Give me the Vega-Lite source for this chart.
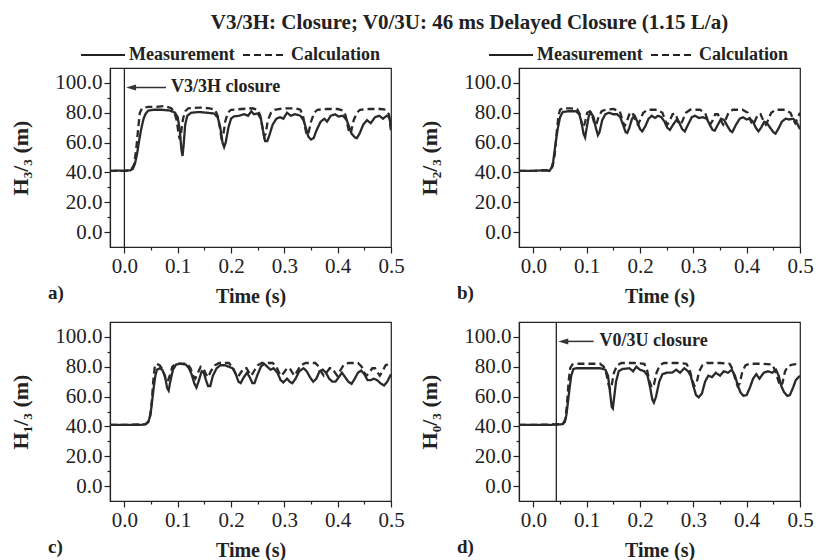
{
  "$schema": "https://vega.github.io/schema/vega-lite/v6.json",
  "background": "white",
  "padding": {"left": 9, "top": 12, "right": 0, "bottom": 2},
  "title": {"text": "V3/3H: Closure; V0/3U: 46 ms Delayed Closure (1.15 L/a)", "font": "Liberation Serif", "fontSize": 21, "fontWeight": "bold", "color": "#222", "anchor": "middle", "offset": -2, "dx": 58},
  "bounds": "flush",
  "columns": 2,
  "spacing": {"row": 75, "column": 128},
  "resolve": {"scale": {"strokeDash": "independent"}, "legend": {"strokeDash": "independent"}},
  "config": {
    "font": "Liberation Serif",
    "view": {"stroke": "#222", "strokeWidth": 1.2},
    "axis": {"labelFont": "Liberation Serif", "labelColor": "#222", "labelOverlap": false, "titleFont": "Liberation Serif", "titleFontSize": 20, "titleFontWeight": "bold", "titleColor": "#222", "domainColor": "#222", "tickColor": "#222", "grid": false, "tickWidth": 1.2, "domainWidth": 1.2},
    "axisY": {"titleFontSize": 22},
    "legend": {"labelFont": "Liberation Serif", "labelFontSize": 18, "labelFontWeight": "bold", "labelColor": "#222"}
  },
  "datasets": {
    "curves": [
      {"p":"a","s":"Measurement","t":-0.027,"h":41},{"p":"a","s":"Measurement","t":-0.01,"h":41.2},{"p":"a","s":"Measurement","t":0.0,"h":41},{"p":"a","s":"Measurement","t":0.012,"h":41.5},{"p":"a","s":"Measurement","t":0.016,"h":42.5},{"p":"a","s":"Measurement","t":0.02,"h":46},{"p":"a","s":"Measurement","t":0.024,"h":53},{"p":"a","s":"Measurement","t":0.028,"h":62},{"p":"a","s":"Measurement","t":0.032,"h":70},{"p":"a","s":"Measurement","t":0.036,"h":76},{"p":"a","s":"Measurement","t":0.04,"h":79.5},{"p":"a","s":"Measurement","t":0.045,"h":81.5},{"p":"a","s":"Measurement","t":0.055,"h":82},{"p":"a","s":"Measurement","t":0.07,"h":82},{"p":"a","s":"Measurement","t":0.085,"h":81.5},{"p":"a","s":"Measurement","t":0.095,"h":80},{"p":"a","s":"Measurement","t":0.1,"h":77},{"p":"a","s":"Measurement","t":0.104,"h":68},{"p":"a","s":"Measurement","t":0.107,"h":55},{"p":"a","s":"Measurement","t":0.109,"h":51},{"p":"a","s":"Measurement","t":0.111,"h":58},{"p":"a","s":"Measurement","t":0.114,"h":72},{"p":"a","s":"Measurement","t":0.118,"h":78},{"p":"a","s":"Measurement","t":0.125,"h":80},{"p":"a","s":"Measurement","t":0.14,"h":80.5},{"p":"a","s":"Measurement","t":0.155,"h":80},{"p":"a","s":"Measurement","t":0.168,"h":79.5},{"p":"a","s":"Measurement","t":0.175,"h":77},{"p":"a","s":"Measurement","t":0.18,"h":70},{"p":"a","s":"Measurement","t":0.184,"h":60},{"p":"a","s":"Measurement","t":0.187,"h":57},{"p":"a","s":"Measurement","t":0.19,"h":60},{"p":"a","s":"Measurement","t":0.195,"h":70},{"p":"a","s":"Measurement","t":0.2,"h":76},{"p":"a","s":"Measurement","t":0.205,"h":77.5},{"p":"a","s":"Measurement","t":0.215,"h":78},{"p":"a","s":"Measurement","t":0.225,"h":79},{"p":"a","s":"Measurement","t":0.232,"h":78},{"p":"a","s":"Measurement","t":0.238,"h":81},{"p":"a","s":"Measurement","t":0.243,"h":79},{"p":"a","s":"Measurement","t":0.25,"h":79.5},{"p":"a","s":"Measurement","t":0.256,"h":76},{"p":"a","s":"Measurement","t":0.26,"h":68},{"p":"a","s":"Measurement","t":0.264,"h":61},{"p":"a","s":"Measurement","t":0.268,"h":61},{"p":"a","s":"Measurement","t":0.272,"h":65},{"p":"a","s":"Measurement","t":0.278,"h":72},{"p":"a","s":"Measurement","t":0.285,"h":76},{"p":"a","s":"Measurement","t":0.292,"h":77},{"p":"a","s":"Measurement","t":0.298,"h":76},{"p":"a","s":"Measurement","t":0.305,"h":80},{"p":"a","s":"Measurement","t":0.312,"h":78},{"p":"a","s":"Measurement","t":0.32,"h":79},{"p":"a","s":"Measurement","t":0.33,"h":78},{"p":"a","s":"Measurement","t":0.336,"h":75},{"p":"a","s":"Measurement","t":0.341,"h":69},{"p":"a","s":"Measurement","t":0.345,"h":64},{"p":"a","s":"Measurement","t":0.35,"h":62},{"p":"a","s":"Measurement","t":0.355,"h":63},{"p":"a","s":"Measurement","t":0.36,"h":68},{"p":"a","s":"Measurement","t":0.368,"h":74},{"p":"a","s":"Measurement","t":0.375,"h":76},{"p":"a","s":"Measurement","t":0.38,"h":74},{"p":"a","s":"Measurement","t":0.387,"h":78},{"p":"a","s":"Measurement","t":0.395,"h":79},{"p":"a","s":"Measurement","t":0.402,"h":77.5},{"p":"a","s":"Measurement","t":0.41,"h":78},{"p":"a","s":"Measurement","t":0.417,"h":75},{"p":"a","s":"Measurement","t":0.422,"h":70},{"p":"a","s":"Measurement","t":0.426,"h":66},{"p":"a","s":"Measurement","t":0.432,"h":63.5},{"p":"a","s":"Measurement","t":0.436,"h":63},{"p":"a","s":"Measurement","t":0.441,"h":66},{"p":"a","s":"Measurement","t":0.448,"h":72},{"p":"a","s":"Measurement","t":0.455,"h":75},{"p":"a","s":"Measurement","t":0.462,"h":73},{"p":"a","s":"Measurement","t":0.47,"h":77},{"p":"a","s":"Measurement","t":0.478,"h":78},{"p":"a","s":"Measurement","t":0.485,"h":76},{"p":"a","s":"Measurement","t":0.492,"h":78},{"p":"a","s":"Measurement","t":0.497,"h":77},{"p":"a","s":"Measurement","t":0.5,"h":70},
      {"p":"a","s":"Calculation","t":-0.027,"h":41},{"p":"a","s":"Calculation","t":0.0,"h":41},{"p":"a","s":"Calculation","t":0.012,"h":41.5},{"p":"a","s":"Calculation","t":0.018,"h":45},{"p":"a","s":"Calculation","t":0.022,"h":55},{"p":"a","s":"Calculation","t":0.026,"h":70},{"p":"a","s":"Calculation","t":0.029,"h":80},{"p":"a","s":"Calculation","t":0.033,"h":83},{"p":"a","s":"Calculation","t":0.045,"h":84},{"p":"a","s":"Calculation","t":0.06,"h":84},{"p":"a","s":"Calculation","t":0.075,"h":84.5},{"p":"a","s":"Calculation","t":0.088,"h":83},{"p":"a","s":"Calculation","t":0.094,"h":80},{"p":"a","s":"Calculation","t":0.098,"h":75},{"p":"a","s":"Calculation","t":0.102,"h":65},{"p":"a","s":"Calculation","t":0.104,"h":62},{"p":"a","s":"Calculation","t":0.106,"h":66},{"p":"a","s":"Calculation","t":0.11,"h":76},{"p":"a","s":"Calculation","t":0.114,"h":81},{"p":"a","s":"Calculation","t":0.12,"h":83},{"p":"a","s":"Calculation","t":0.14,"h":83.5},{"p":"a","s":"Calculation","t":0.16,"h":83},{"p":"a","s":"Calculation","t":0.17,"h":82},{"p":"a","s":"Calculation","t":0.175,"h":78},{"p":"a","s":"Calculation","t":0.179,"h":70},{"p":"a","s":"Calculation","t":0.182,"h":63},{"p":"a","s":"Calculation","t":0.185,"h":64},{"p":"a","s":"Calculation","t":0.189,"h":74},{"p":"a","s":"Calculation","t":0.194,"h":80},{"p":"a","s":"Calculation","t":0.2,"h":82},{"p":"a","s":"Calculation","t":0.22,"h":82.5},{"p":"a","s":"Calculation","t":0.24,"h":83},{"p":"a","s":"Calculation","t":0.25,"h":82},{"p":"a","s":"Calculation","t":0.255,"h":78},{"p":"a","s":"Calculation","t":0.259,"h":70},{"p":"a","s":"Calculation","t":0.262,"h":64},{"p":"a","s":"Calculation","t":0.265,"h":66},{"p":"a","s":"Calculation","t":0.269,"h":75},{"p":"a","s":"Calculation","t":0.275,"h":80},{"p":"a","s":"Calculation","t":0.282,"h":82},{"p":"a","s":"Calculation","t":0.3,"h":83},{"p":"a","s":"Calculation","t":0.32,"h":83},{"p":"a","s":"Calculation","t":0.33,"h":82},{"p":"a","s":"Calculation","t":0.335,"h":78},{"p":"a","s":"Calculation","t":0.339,"h":70},{"p":"a","s":"Calculation","t":0.342,"h":65},{"p":"a","s":"Calculation","t":0.345,"h":66},{"p":"a","s":"Calculation","t":0.35,"h":74},{"p":"a","s":"Calculation","t":0.356,"h":80},{"p":"a","s":"Calculation","t":0.362,"h":82},{"p":"a","s":"Calculation","t":0.38,"h":82.5},{"p":"a","s":"Calculation","t":0.4,"h":82.5},{"p":"a","s":"Calculation","t":0.41,"h":81.5},{"p":"a","s":"Calculation","t":0.415,"h":78},{"p":"a","s":"Calculation","t":0.419,"h":71},{"p":"a","s":"Calculation","t":0.422,"h":66},{"p":"a","s":"Calculation","t":0.425,"h":67},{"p":"a","s":"Calculation","t":0.43,"h":75},{"p":"a","s":"Calculation","t":0.436,"h":80},{"p":"a","s":"Calculation","t":0.442,"h":82},{"p":"a","s":"Calculation","t":0.46,"h":82.5},{"p":"a","s":"Calculation","t":0.48,"h":82.5},{"p":"a","s":"Calculation","t":0.49,"h":82},{"p":"a","s":"Calculation","t":0.496,"h":79},{"p":"a","s":"Calculation","t":0.5,"h":68},
      {"p":"b","s":"Measurement","t":-0.027,"h":41},{"p":"b","s":"Measurement","t":0.0,"h":41},{"p":"b","s":"Measurement","t":0.02,"h":41.5},{"p":"b","s":"Measurement","t":0.03,"h":41},{"p":"b","s":"Measurement","t":0.034,"h":43},{"p":"b","s":"Measurement","t":0.037,"h":47},{"p":"b","s":"Measurement","t":0.04,"h":55},{"p":"b","s":"Measurement","t":0.043,"h":63},{"p":"b","s":"Measurement","t":0.046,"h":70},{"p":"b","s":"Measurement","t":0.05,"h":77},{"p":"b","s":"Measurement","t":0.055,"h":80.5},{"p":"b","s":"Measurement","t":0.065,"h":81},{"p":"b","s":"Measurement","t":0.08,"h":81},{"p":"b","s":"Measurement","t":0.086,"h":79},{"p":"b","s":"Measurement","t":0.09,"h":74},{"p":"b","s":"Measurement","t":0.094,"h":66},{"p":"b","s":"Measurement","t":0.097,"h":63.5},{"p":"b","s":"Measurement","t":0.1,"h":70},{"p":"b","s":"Measurement","t":0.104,"h":78},{"p":"b","s":"Measurement","t":0.108,"h":80},{"p":"b","s":"Measurement","t":0.113,"h":77},{"p":"b","s":"Measurement","t":0.117,"h":70},{"p":"b","s":"Measurement","t":0.121,"h":65},{"p":"b","s":"Measurement","t":0.124,"h":67},{"p":"b","s":"Measurement","t":0.129,"h":75},{"p":"b","s":"Measurement","t":0.135,"h":79},{"p":"b","s":"Measurement","t":0.142,"h":80},{"p":"b","s":"Measurement","t":0.15,"h":79},{"p":"b","s":"Measurement","t":0.157,"h":79},{"p":"b","s":"Measurement","t":0.163,"h":77},{"p":"b","s":"Measurement","t":0.168,"h":72},{"p":"b","s":"Measurement","t":0.173,"h":67},{"p":"b","s":"Measurement","t":0.176,"h":66.5},{"p":"b","s":"Measurement","t":0.18,"h":70},{"p":"b","s":"Measurement","t":0.185,"h":76},{"p":"b","s":"Measurement","t":0.19,"h":78},{"p":"b","s":"Measurement","t":0.195,"h":74},{"p":"b","s":"Measurement","t":0.2,"h":69},{"p":"b","s":"Measurement","t":0.204,"h":67.5},{"p":"b","s":"Measurement","t":0.21,"h":71},{"p":"b","s":"Measurement","t":0.216,"h":76},{"p":"b","s":"Measurement","t":0.222,"h":78},{"p":"b","s":"Measurement","t":0.228,"h":76.5},{"p":"b","s":"Measurement","t":0.234,"h":78},{"p":"b","s":"Measurement","t":0.24,"h":77},{"p":"b","s":"Measurement","t":0.246,"h":74},{"p":"b","s":"Measurement","t":0.251,"h":70},{"p":"b","s":"Measurement","t":0.256,"h":68.5},{"p":"b","s":"Measurement","t":0.262,"h":72},{"p":"b","s":"Measurement","t":0.268,"h":75},{"p":"b","s":"Measurement","t":0.274,"h":73},{"p":"b","s":"Measurement","t":0.279,"h":69},{"p":"b","s":"Measurement","t":0.284,"h":67.5},{"p":"b","s":"Measurement","t":0.29,"h":72},{"p":"b","s":"Measurement","t":0.297,"h":77},{"p":"b","s":"Measurement","t":0.303,"h":78},{"p":"b","s":"Measurement","t":0.31,"h":76.5},{"p":"b","s":"Measurement","t":0.318,"h":77},{"p":"b","s":"Measurement","t":0.325,"h":76},{"p":"b","s":"Measurement","t":0.331,"h":72},{"p":"b","s":"Measurement","t":0.336,"h":68.5},{"p":"b","s":"Measurement","t":0.34,"h":68},{"p":"b","s":"Measurement","t":0.346,"h":72},{"p":"b","s":"Measurement","t":0.352,"h":76},{"p":"b","s":"Measurement","t":0.358,"h":75},{"p":"b","s":"Measurement","t":0.364,"h":71},{"p":"b","s":"Measurement","t":0.369,"h":68},{"p":"b","s":"Measurement","t":0.373,"h":67},{"p":"b","s":"Measurement","t":0.38,"h":72},{"p":"b","s":"Measurement","t":0.387,"h":76},{"p":"b","s":"Measurement","t":0.393,"h":77},{"p":"b","s":"Measurement","t":0.4,"h":75.5},{"p":"b","s":"Measurement","t":0.406,"h":76},{"p":"b","s":"Measurement","t":0.412,"h":74},{"p":"b","s":"Measurement","t":0.417,"h":70},{"p":"b","s":"Measurement","t":0.422,"h":67.5},{"p":"b","s":"Measurement","t":0.427,"h":70},{"p":"b","s":"Measurement","t":0.433,"h":74},{"p":"b","s":"Measurement","t":0.438,"h":73},{"p":"b","s":"Measurement","t":0.444,"h":70},{"p":"b","s":"Measurement","t":0.45,"h":67},{"p":"b","s":"Measurement","t":0.454,"h":66},{"p":"b","s":"Measurement","t":0.459,"h":69},{"p":"b","s":"Measurement","t":0.466,"h":74},{"p":"b","s":"Measurement","t":0.473,"h":76},{"p":"b","s":"Measurement","t":0.48,"h":75.5},{"p":"b","s":"Measurement","t":0.487,"h":76},{"p":"b","s":"Measurement","t":0.493,"h":74},{"p":"b","s":"Measurement","t":0.5,"h":69},
      {"p":"b","s":"Calculation","t":-0.027,"h":41},{"p":"b","s":"Calculation","t":0.0,"h":41},{"p":"b","s":"Calculation","t":0.03,"h":41.5},{"p":"b","s":"Calculation","t":0.036,"h":44},{"p":"b","s":"Calculation","t":0.04,"h":52},{"p":"b","s":"Calculation","t":0.044,"h":68},{"p":"b","s":"Calculation","t":0.047,"h":78},{"p":"b","s":"Calculation","t":0.05,"h":82},{"p":"b","s":"Calculation","t":0.055,"h":83},{"p":"b","s":"Calculation","t":0.07,"h":83},{"p":"b","s":"Calculation","t":0.082,"h":82.5},{"p":"b","s":"Calculation","t":0.087,"h":79},{"p":"b","s":"Calculation","t":0.091,"h":72},{"p":"b","s":"Calculation","t":0.094,"h":70},{"p":"b","s":"Calculation","t":0.097,"h":74},{"p":"b","s":"Calculation","t":0.101,"h":80},{"p":"b","s":"Calculation","t":0.106,"h":81},{"p":"b","s":"Calculation","t":0.111,"h":77},{"p":"b","s":"Calculation","t":0.115,"h":72},{"p":"b","s":"Calculation","t":0.118,"h":72},{"p":"b","s":"Calculation","t":0.122,"h":77},{"p":"b","s":"Calculation","t":0.128,"h":81},{"p":"b","s":"Calculation","t":0.135,"h":82},{"p":"b","s":"Calculation","t":0.15,"h":82.5},{"p":"b","s":"Calculation","t":0.162,"h":81},{"p":"b","s":"Calculation","t":0.167,"h":75},{"p":"b","s":"Calculation","t":0.171,"h":71},{"p":"b","s":"Calculation","t":0.175,"h":74},{"p":"b","s":"Calculation","t":0.181,"h":80},{"p":"b","s":"Calculation","t":0.186,"h":80},{"p":"b","s":"Calculation","t":0.191,"h":75},{"p":"b","s":"Calculation","t":0.196,"h":72},{"p":"b","s":"Calculation","t":0.2,"h":75},{"p":"b","s":"Calculation","t":0.206,"h":80},{"p":"b","s":"Calculation","t":0.214,"h":82},{"p":"b","s":"Calculation","t":0.232,"h":82},{"p":"b","s":"Calculation","t":0.242,"h":80},{"p":"b","s":"Calculation","t":0.247,"h":75},{"p":"b","s":"Calculation","t":0.251,"h":72},{"p":"b","s":"Calculation","t":0.255,"h":74},{"p":"b","s":"Calculation","t":0.261,"h":79},{"p":"b","s":"Calculation","t":0.266,"h":79.5},{"p":"b","s":"Calculation","t":0.271,"h":75},{"p":"b","s":"Calculation","t":0.276,"h":72},{"p":"b","s":"Calculation","t":0.28,"h":75},{"p":"b","s":"Calculation","t":0.286,"h":80},{"p":"b","s":"Calculation","t":0.294,"h":82},{"p":"b","s":"Calculation","t":0.312,"h":82},{"p":"b","s":"Calculation","t":0.322,"h":80},{"p":"b","s":"Calculation","t":0.327,"h":75},{"p":"b","s":"Calculation","t":0.331,"h":72},{"p":"b","s":"Calculation","t":0.335,"h":74},{"p":"b","s":"Calculation","t":0.341,"h":79},{"p":"b","s":"Calculation","t":0.346,"h":79},{"p":"b","s":"Calculation","t":0.351,"h":75},{"p":"b","s":"Calculation","t":0.356,"h":72},{"p":"b","s":"Calculation","t":0.36,"h":75},{"p":"b","s":"Calculation","t":0.366,"h":80},{"p":"b","s":"Calculation","t":0.374,"h":82},{"p":"b","s":"Calculation","t":0.392,"h":82},{"p":"b","s":"Calculation","t":0.402,"h":80},{"p":"b","s":"Calculation","t":0.407,"h":75},{"p":"b","s":"Calculation","t":0.411,"h":72},{"p":"b","s":"Calculation","t":0.415,"h":74},{"p":"b","s":"Calculation","t":0.421,"h":79},{"p":"b","s":"Calculation","t":0.426,"h":79},{"p":"b","s":"Calculation","t":0.431,"h":75},{"p":"b","s":"Calculation","t":0.436,"h":72},{"p":"b","s":"Calculation","t":0.44,"h":75},{"p":"b","s":"Calculation","t":0.446,"h":80},{"p":"b","s":"Calculation","t":0.454,"h":82},{"p":"b","s":"Calculation","t":0.472,"h":82},{"p":"b","s":"Calculation","t":0.482,"h":80},{"p":"b","s":"Calculation","t":0.487,"h":76},{"p":"b","s":"Calculation","t":0.491,"h":73},{"p":"b","s":"Calculation","t":0.495,"h":76},{"p":"b","s":"Calculation","t":0.5,"h":80},
      {"p":"c","s":"Measurement","t":-0.027,"h":41},{"p":"c","s":"Measurement","t":0.0,"h":41},{"p":"c","s":"Measurement","t":0.03,"h":41},{"p":"c","s":"Measurement","t":0.04,"h":41.5},{"p":"c","s":"Measurement","t":0.045,"h":43},{"p":"c","s":"Measurement","t":0.049,"h":48},{"p":"c","s":"Measurement","t":0.052,"h":57},{"p":"c","s":"Measurement","t":0.055,"h":66},{"p":"c","s":"Measurement","t":0.058,"h":74},{"p":"c","s":"Measurement","t":0.061,"h":78},{"p":"c","s":"Measurement","t":0.066,"h":79},{"p":"c","s":"Measurement","t":0.071,"h":78},{"p":"c","s":"Measurement","t":0.076,"h":74},{"p":"c","s":"Measurement","t":0.08,"h":66},{"p":"c","s":"Measurement","t":0.083,"h":64},{"p":"c","s":"Measurement","t":0.086,"h":70},{"p":"c","s":"Measurement","t":0.091,"h":78},{"p":"c","s":"Measurement","t":0.097,"h":81.5},{"p":"c","s":"Measurement","t":0.105,"h":82},{"p":"c","s":"Measurement","t":0.115,"h":81.5},{"p":"c","s":"Measurement","t":0.121,"h":79},{"p":"c","s":"Measurement","t":0.126,"h":75},{"p":"c","s":"Measurement","t":0.131,"h":69},{"p":"c","s":"Measurement","t":0.135,"h":66},{"p":"c","s":"Measurement","t":0.139,"h":70},{"p":"c","s":"Measurement","t":0.145,"h":77},{"p":"c","s":"Measurement","t":0.149,"h":76},{"p":"c","s":"Measurement","t":0.153,"h":71},{"p":"c","s":"Measurement","t":0.157,"h":67},{"p":"c","s":"Measurement","t":0.161,"h":67},{"p":"c","s":"Measurement","t":0.166,"h":74},{"p":"c","s":"Measurement","t":0.173,"h":79},{"p":"c","s":"Measurement","t":0.18,"h":81},{"p":"c","s":"Measurement","t":0.188,"h":81},{"p":"c","s":"Measurement","t":0.196,"h":80},{"p":"c","s":"Measurement","t":0.203,"h":79},{"p":"c","s":"Measurement","t":0.209,"h":75},{"p":"c","s":"Measurement","t":0.214,"h":70},{"p":"c","s":"Measurement","t":0.218,"h":69},{"p":"c","s":"Measurement","t":0.224,"h":73},{"p":"c","s":"Measurement","t":0.23,"h":76},{"p":"c","s":"Measurement","t":0.235,"h":73},{"p":"c","s":"Measurement","t":0.24,"h":69},{"p":"c","s":"Measurement","t":0.244,"h":69},{"p":"c","s":"Measurement","t":0.25,"h":75},{"p":"c","s":"Measurement","t":0.256,"h":80},{"p":"c","s":"Measurement","t":0.262,"h":82},{"p":"c","s":"Measurement","t":0.268,"h":80},{"p":"c","s":"Measurement","t":0.274,"h":78},{"p":"c","s":"Measurement","t":0.28,"h":79},{"p":"c","s":"Measurement","t":0.287,"h":76},{"p":"c","s":"Measurement","t":0.293,"h":71},{"p":"c","s":"Measurement","t":0.298,"h":69.5},{"p":"c","s":"Measurement","t":0.305,"h":72},{"p":"c","s":"Measurement","t":0.31,"h":70},{"p":"c","s":"Measurement","t":0.315,"h":69},{"p":"c","s":"Measurement","t":0.321,"h":72},{"p":"c","s":"Measurement","t":0.328,"h":77},{"p":"c","s":"Measurement","t":0.336,"h":79},{"p":"c","s":"Measurement","t":0.342,"h":77},{"p":"c","s":"Measurement","t":0.348,"h":73},{"p":"c","s":"Measurement","t":0.354,"h":70},{"p":"c","s":"Measurement","t":0.36,"h":72},{"p":"c","s":"Measurement","t":0.366,"h":77},{"p":"c","s":"Measurement","t":0.372,"h":78},{"p":"c","s":"Measurement","t":0.378,"h":76},{"p":"c","s":"Measurement","t":0.384,"h":72},{"p":"c","s":"Measurement","t":0.39,"h":70},{"p":"c","s":"Measurement","t":0.396,"h":70},{"p":"c","s":"Measurement","t":0.402,"h":73},{"p":"c","s":"Measurement","t":0.408,"h":76},{"p":"c","s":"Measurement","t":0.414,"h":73},{"p":"c","s":"Measurement","t":0.42,"h":70},{"p":"c","s":"Measurement","t":0.426,"h":68.5},{"p":"c","s":"Measurement","t":0.432,"h":72},{"p":"c","s":"Measurement","t":0.438,"h":76},{"p":"c","s":"Measurement","t":0.444,"h":77.5},{"p":"c","s":"Measurement","t":0.45,"h":75},{"p":"c","s":"Measurement","t":0.456,"h":71},{"p":"c","s":"Measurement","t":0.462,"h":71},{"p":"c","s":"Measurement","t":0.468,"h":72},{"p":"c","s":"Measurement","t":0.474,"h":71},{"p":"c","s":"Measurement","t":0.48,"h":69},{"p":"c","s":"Measurement","t":0.487,"h":67.5},{"p":"c","s":"Measurement","t":0.493,"h":70},{"p":"c","s":"Measurement","t":0.5,"h":75},
      {"p":"c","s":"Calculation","t":-0.027,"h":41},{"p":"c","s":"Calculation","t":0.0,"h":41},{"p":"c","s":"Calculation","t":0.04,"h":41.5},{"p":"c","s":"Calculation","t":0.047,"h":44},{"p":"c","s":"Calculation","t":0.051,"h":55},{"p":"c","s":"Calculation","t":0.054,"h":70},{"p":"c","s":"Calculation","t":0.057,"h":80},{"p":"c","s":"Calculation","t":0.06,"h":82},{"p":"c","s":"Calculation","t":0.066,"h":81},{"p":"c","s":"Calculation","t":0.072,"h":78},{"p":"c","s":"Calculation","t":0.077,"h":72},{"p":"c","s":"Calculation","t":0.081,"h":70},{"p":"c","s":"Calculation","t":0.085,"h":74},{"p":"c","s":"Calculation","t":0.09,"h":80},{"p":"c","s":"Calculation","t":0.096,"h":82},{"p":"c","s":"Calculation","t":0.118,"h":82},{"p":"c","s":"Calculation","t":0.124,"h":79},{"p":"c","s":"Calculation","t":0.129,"h":74},{"p":"c","s":"Calculation","t":0.133,"h":72},{"p":"c","s":"Calculation","t":0.138,"h":76},{"p":"c","s":"Calculation","t":0.143,"h":80},{"p":"c","s":"Calculation","t":0.148,"h":79},{"p":"c","s":"Calculation","t":0.153,"h":75},{"p":"c","s":"Calculation","t":0.157,"h":73},{"p":"c","s":"Calculation","t":0.162,"h":77},{"p":"c","s":"Calculation","t":0.17,"h":81},{"p":"c","s":"Calculation","t":0.178,"h":82.5},{"p":"c","s":"Calculation","t":0.196,"h":82.5},{"p":"c","s":"Calculation","t":0.204,"h":79},{"p":"c","s":"Calculation","t":0.209,"h":75},{"p":"c","s":"Calculation","t":0.213,"h":73},{"p":"c","s":"Calculation","t":0.218,"h":76},{"p":"c","s":"Calculation","t":0.224,"h":79},{"p":"c","s":"Calculation","t":0.229,"h":79},{"p":"c","s":"Calculation","t":0.234,"h":76},{"p":"c","s":"Calculation","t":0.238,"h":74},{"p":"c","s":"Calculation","t":0.243,"h":77},{"p":"c","s":"Calculation","t":0.25,"h":81},{"p":"c","s":"Calculation","t":0.258,"h":82.5},{"p":"c","s":"Calculation","t":0.278,"h":82.5},{"p":"c","s":"Calculation","t":0.285,"h":80},{"p":"c","s":"Calculation","t":0.29,"h":76},{"p":"c","s":"Calculation","t":0.294,"h":74},{"p":"c","s":"Calculation","t":0.299,"h":76},{"p":"c","s":"Calculation","t":0.305,"h":79},{"p":"c","s":"Calculation","t":0.31,"h":79},{"p":"c","s":"Calculation","t":0.315,"h":76},{"p":"c","s":"Calculation","t":0.319,"h":74},{"p":"c","s":"Calculation","t":0.324,"h":77},{"p":"c","s":"Calculation","t":0.331,"h":81},{"p":"c","s":"Calculation","t":0.34,"h":82.5},{"p":"c","s":"Calculation","t":0.358,"h":82.5},{"p":"c","s":"Calculation","t":0.365,"h":80},{"p":"c","s":"Calculation","t":0.37,"h":76},{"p":"c","s":"Calculation","t":0.374,"h":74},{"p":"c","s":"Calculation","t":0.379,"h":76},{"p":"c","s":"Calculation","t":0.385,"h":79},{"p":"c","s":"Calculation","t":0.39,"h":79},{"p":"c","s":"Calculation","t":0.395,"h":76},{"p":"c","s":"Calculation","t":0.399,"h":74},{"p":"c","s":"Calculation","t":0.404,"h":77},{"p":"c","s":"Calculation","t":0.411,"h":81},{"p":"c","s":"Calculation","t":0.42,"h":82.5},{"p":"c","s":"Calculation","t":0.438,"h":82.5},{"p":"c","s":"Calculation","t":0.445,"h":80},{"p":"c","s":"Calculation","t":0.45,"h":76},{"p":"c","s":"Calculation","t":0.454,"h":74},{"p":"c","s":"Calculation","t":0.459,"h":76},{"p":"c","s":"Calculation","t":0.465,"h":79},{"p":"c","s":"Calculation","t":0.47,"h":79},{"p":"c","s":"Calculation","t":0.475,"h":76},{"p":"c","s":"Calculation","t":0.479,"h":74},{"p":"c","s":"Calculation","t":0.484,"h":77},{"p":"c","s":"Calculation","t":0.49,"h":81},{"p":"c","s":"Calculation","t":0.5,"h":82.5},
      {"p":"d","s":"Measurement","t":-0.027,"h":41},{"p":"d","s":"Measurement","t":0.0,"h":41},{"p":"d","s":"Measurement","t":0.03,"h":41},{"p":"d","s":"Measurement","t":0.055,"h":41.5},{"p":"d","s":"Measurement","t":0.059,"h":43},{"p":"d","s":"Measurement","t":0.062,"h":48},{"p":"d","s":"Measurement","t":0.065,"h":57},{"p":"d","s":"Measurement","t":0.068,"h":66},{"p":"d","s":"Measurement","t":0.071,"h":74},{"p":"d","s":"Measurement","t":0.075,"h":78.5},{"p":"d","s":"Measurement","t":0.08,"h":79},{"p":"d","s":"Measurement","t":0.095,"h":79},{"p":"d","s":"Measurement","t":0.11,"h":79},{"p":"d","s":"Measurement","t":0.125,"h":79},{"p":"d","s":"Measurement","t":0.135,"h":78},{"p":"d","s":"Measurement","t":0.14,"h":74},{"p":"d","s":"Measurement","t":0.144,"h":62},{"p":"d","s":"Measurement","t":0.147,"h":53},{"p":"d","s":"Measurement","t":0.149,"h":52},{"p":"d","s":"Measurement","t":0.151,"h":58},{"p":"d","s":"Measurement","t":0.155,"h":70},{"p":"d","s":"Measurement","t":0.16,"h":77},{"p":"d","s":"Measurement","t":0.167,"h":78.5},{"p":"d","s":"Measurement","t":0.18,"h":79},{"p":"d","s":"Measurement","t":0.187,"h":77},{"p":"d","s":"Measurement","t":0.193,"h":80},{"p":"d","s":"Measurement","t":0.2,"h":78},{"p":"d","s":"Measurement","t":0.208,"h":77},{"p":"d","s":"Measurement","t":0.214,"h":74},{"p":"d","s":"Measurement","t":0.219,"h":66},{"p":"d","s":"Measurement","t":0.223,"h":58},{"p":"d","s":"Measurement","t":0.226,"h":56},{"p":"d","s":"Measurement","t":0.23,"h":60},{"p":"d","s":"Measurement","t":0.236,"h":70},{"p":"d","s":"Measurement","t":0.242,"h":75},{"p":"d","s":"Measurement","t":0.25,"h":76},{"p":"d","s":"Measurement","t":0.26,"h":76},{"p":"d","s":"Measurement","t":0.268,"h":78},{"p":"d","s":"Measurement","t":0.275,"h":76},{"p":"d","s":"Measurement","t":0.283,"h":79},{"p":"d","s":"Measurement","t":0.29,"h":77},{"p":"d","s":"Measurement","t":0.295,"h":74},{"p":"d","s":"Measurement","t":0.3,"h":67},{"p":"d","s":"Measurement","t":0.305,"h":61},{"p":"d","s":"Measurement","t":0.31,"h":59.5},{"p":"d","s":"Measurement","t":0.316,"h":62},{"p":"d","s":"Measurement","t":0.322,"h":70},{"p":"d","s":"Measurement","t":0.328,"h":74},{"p":"d","s":"Measurement","t":0.335,"h":73},{"p":"d","s":"Measurement","t":0.342,"h":76},{"p":"d","s":"Measurement","t":0.35,"h":74},{"p":"d","s":"Measurement","t":0.357,"h":77},{"p":"d","s":"Measurement","t":0.365,"h":76},{"p":"d","s":"Measurement","t":0.372,"h":78},{"p":"d","s":"Measurement","t":0.378,"h":74},{"p":"d","s":"Measurement","t":0.383,"h":68},{"p":"d","s":"Measurement","t":0.388,"h":63},{"p":"d","s":"Measurement","t":0.394,"h":60.5},{"p":"d","s":"Measurement","t":0.4,"h":61},{"p":"d","s":"Measurement","t":0.406,"h":66},{"p":"d","s":"Measurement","t":0.412,"h":72},{"p":"d","s":"Measurement","t":0.418,"h":75},{"p":"d","s":"Measurement","t":0.424,"h":72},{"p":"d","s":"Measurement","t":0.432,"h":76},{"p":"d","s":"Measurement","t":0.44,"h":77},{"p":"d","s":"Measurement","t":0.448,"h":76},{"p":"d","s":"Measurement","t":0.455,"h":78},{"p":"d","s":"Measurement","t":0.46,"h":74},{"p":"d","s":"Measurement","t":0.465,"h":67},{"p":"d","s":"Measurement","t":0.47,"h":63},{"p":"d","s":"Measurement","t":0.476,"h":60.5},{"p":"d","s":"Measurement","t":0.481,"h":61},{"p":"d","s":"Measurement","t":0.487,"h":66},{"p":"d","s":"Measurement","t":0.492,"h":71},{"p":"d","s":"Measurement","t":0.5,"h":74},
      {"p":"d","s":"Calculation","t":-0.027,"h":41},{"p":"d","s":"Calculation","t":0.0,"h":41},{"p":"d","s":"Calculation","t":0.055,"h":41.5},{"p":"d","s":"Calculation","t":0.06,"h":45},{"p":"d","s":"Calculation","t":0.063,"h":55},{"p":"d","s":"Calculation","t":0.066,"h":70},{"p":"d","s":"Calculation","t":0.069,"h":79},{"p":"d","s":"Calculation","t":0.073,"h":81.5},{"p":"d","s":"Calculation","t":0.085,"h":82},{"p":"d","s":"Calculation","t":0.105,"h":82},{"p":"d","s":"Calculation","t":0.125,"h":82},{"p":"d","s":"Calculation","t":0.132,"h":80},{"p":"d","s":"Calculation","t":0.137,"h":75},{"p":"d","s":"Calculation","t":0.141,"h":68},{"p":"d","s":"Calculation","t":0.144,"h":65},{"p":"d","s":"Calculation","t":0.147,"h":68},{"p":"d","s":"Calculation","t":0.151,"h":76},{"p":"d","s":"Calculation","t":0.157,"h":81},{"p":"d","s":"Calculation","t":0.165,"h":82.5},{"p":"d","s":"Calculation","t":0.19,"h":82.5},{"p":"d","s":"Calculation","t":0.208,"h":82},{"p":"d","s":"Calculation","t":0.213,"h":78},{"p":"d","s":"Calculation","t":0.218,"h":70},{"p":"d","s":"Calculation","t":0.222,"h":66},{"p":"d","s":"Calculation","t":0.226,"h":68},{"p":"d","s":"Calculation","t":0.231,"h":76},{"p":"d","s":"Calculation","t":0.237,"h":81},{"p":"d","s":"Calculation","t":0.245,"h":82.5},{"p":"d","s":"Calculation","t":0.27,"h":82.5},{"p":"d","s":"Calculation","t":0.287,"h":82},{"p":"d","s":"Calculation","t":0.293,"h":78},{"p":"d","s":"Calculation","t":0.298,"h":71},{"p":"d","s":"Calculation","t":0.302,"h":67},{"p":"d","s":"Calculation","t":0.306,"h":69},{"p":"d","s":"Calculation","t":0.311,"h":77},{"p":"d","s":"Calculation","t":0.317,"h":81},{"p":"d","s":"Calculation","t":0.325,"h":82.5},{"p":"d","s":"Calculation","t":0.35,"h":82.5},{"p":"d","s":"Calculation","t":0.368,"h":82},{"p":"d","s":"Calculation","t":0.374,"h":78},{"p":"d","s":"Calculation","t":0.379,"h":71},{"p":"d","s":"Calculation","t":0.383,"h":67},{"p":"d","s":"Calculation","t":0.387,"h":69},{"p":"d","s":"Calculation","t":0.392,"h":77},{"p":"d","s":"Calculation","t":0.398,"h":81},{"p":"d","s":"Calculation","t":0.406,"h":82},{"p":"d","s":"Calculation","t":0.43,"h":82},{"p":"d","s":"Calculation","t":0.448,"h":81.5},{"p":"d","s":"Calculation","t":0.454,"h":77},{"p":"d","s":"Calculation","t":0.459,"h":71},{"p":"d","s":"Calculation","t":0.463,"h":67},{"p":"d","s":"Calculation","t":0.467,"h":69},{"p":"d","s":"Calculation","t":0.472,"h":77},{"p":"d","s":"Calculation","t":0.478,"h":80.5},{"p":"d","s":"Calculation","t":0.486,"h":81.5},{"p":"d","s":"Calculation","t":0.5,"h":82}
    ],
    "notes": [
      {"p":"a","k":"vline","t":0.0,"h":-10,"h2":110},
      {"p":"a","k":"arrow","t":0.0125,"t2":0.078,"h":97},
      {"p":"a","k":"label","t":0.0875,"h":97,"label":"V3/3H closure"},
      {"p":"d","k":"vline","t":0.043,"h":-10,"h2":110},
      {"p":"d","k":"arrow","t":0.056,"t2":0.113,"h":97},
      {"p":"d","k":"label","t":0.124,"h":97,"label":"V0/3U closure"}
    ]
  },
  "concat": [
    {
      "width": 281, "height": 179,
      "title": {"text": "a)", "orient": "bottom", "anchor": "start", "frame": "group", "dx": -62, "offset": -22, "font": "Liberation Serif", "fontSize": 19, "fontWeight": "bold", "color": "#222"},
      "encoding": {
        "x": {"field": "t", "type": "quantitative", "scale": {"domain": [-0.027, 0.5], "nice": false, "zero": false},
          "axis": {"title": "Time (s)", "values": [0,0.05,0.1,0.15,0.2,0.25,0.3,0.35,0.4,0.45,0.5], "labelExpr": "abs(datum.value*10 - round(datum.value*10)) < 0.001 ? format(datum.value, '.1f') : ''", "labelFontSize": {"condition": {"test": "abs(datum.value*10 - round(datum.value*10)) < 0.001", "value": 21}, "value": 1}, "tickSize": {"condition": {"test": "abs(datum.value*10 - round(datum.value*10)) < 0.001", "value": 6}, "value": 3}, "labelPadding": 2, "titlePadding": 10, "labelFlush": false, "labelOverlap": false}},
        "y": {"field": "h", "type": "quantitative", "scale": {"domain": [-10, 110], "nice": false, "zero": false},
          "axis": {"title": "H₃/₃ (m)", "values": [0,10,20,30,40,50,60,70,80,90,100], "labelExpr": "datum.value % 20 == 0 ? format(datum.value, '.1f') : ''", "labelFontSize": {"condition": {"test": "datum.value % 20 == 0", "value": 21}, "value": 1}, "tickSize": {"condition": {"test": "datum.value % 20 == 0", "value": 6}, "value": 3}, "labelPadding": 2, "titlePadding": 22, "labelOverlap": false}}
      },
      "layer": [
        {
          "data": {"name": "curves"},
          "transform": [{"filter": "datum.p == 'a'"}],
          "mark": {"type": "line", "strokeWidth": 2.3, "color": "#2a2a2a", "clip": true},
          "encoding": {
            "strokeDash": {"field": "s", "type": "nominal", "scale": {"domain": ["Measurement", "Calculation"], "range": [[1, 0], [7, 4]]},
              "legend": {"orient": "none", "legendX": -30, "legendY": -36, "title": null, "direction": "horizontal", "symbolType": "stroke", "symbolSize": 1936, "symbolStrokeWidth": 2, "symbolStrokeColor": "#222", "columnPadding": 4, "labelOffset": 3}}
          }
        },
        {
          "data": {"name": "notes"},
          "transform": [{"filter": "datum.p == 'a' && datum.k == 'vline'"}],
          "mark": {"type": "rule", "color": "#222", "strokeWidth": 1.3},
          "encoding": {"y2": {"field": "h2"}}
        },
        {
          "data": {"name": "notes"},
          "transform": [{"filter": "datum.p == 'a' && datum.k == 'arrow'"}],
          "mark": {"type": "rule", "color": "#333", "strokeWidth": 1.5},
          "encoding": {"x2": {"field": "t2"}}
        },
        {
          "data": {"name": "notes"},
          "transform": [{"filter": "datum.p == 'a' && datum.k == 'arrow'"}],
          "mark": {"type": "point", "shape": "M-1,0L1,-0.6L1,0.6Z", "size": 100, "filled": true, "color": "#333", "opacity": 1},
          "encoding": {}
        },
        {
          "data": {"name": "notes"},
          "transform": [{"filter": "datum.p == 'a' && datum.k == 'label'"}],
          "mark": {"type": "text", "align": "left", "baseline": "middle", "font": "Liberation Serif", "fontSize": 18, "fontWeight": "bold", "color": "#222"},
          "encoding": {"text": {"field": "label"}}
        }
      ]
    },
    {
      "width": 281, "height": 179,
      "title": {"text": "b)", "orient": "bottom", "anchor": "start", "frame": "group", "dx": -62, "offset": -22, "font": "Liberation Serif", "fontSize": 19, "fontWeight": "bold", "color": "#222"},
      "encoding": {
        "x": {"field": "t", "type": "quantitative", "scale": {"domain": [-0.027, 0.5], "nice": false, "zero": false},
          "axis": {"title": "Time (s)", "values": [0,0.05,0.1,0.15,0.2,0.25,0.3,0.35,0.4,0.45,0.5], "labelExpr": "abs(datum.value*10 - round(datum.value*10)) < 0.001 ? format(datum.value, '.1f') : ''", "labelFontSize": {"condition": {"test": "abs(datum.value*10 - round(datum.value*10)) < 0.001", "value": 21}, "value": 1}, "tickSize": {"condition": {"test": "abs(datum.value*10 - round(datum.value*10)) < 0.001", "value": 6}, "value": 3}, "labelPadding": 2, "titlePadding": 10, "labelFlush": false, "labelOverlap": false}},
        "y": {"field": "h", "type": "quantitative", "scale": {"domain": [-10, 110], "nice": false, "zero": false},
          "axis": {"title": "H₂/₃ (m)", "values": [0,10,20,30,40,50,60,70,80,90,100], "labelExpr": "datum.value % 20 == 0 ? format(datum.value, '.1f') : ''", "labelFontSize": {"condition": {"test": "datum.value % 20 == 0", "value": 21}, "value": 1}, "tickSize": {"condition": {"test": "datum.value % 20 == 0", "value": 6}, "value": 3}, "labelPadding": 2, "titlePadding": 22, "labelOverlap": false}}
      },
      "layer": [
        {
          "data": {"name": "curves"},
          "transform": [{"filter": "datum.p == 'b'"}],
          "mark": {"type": "line", "strokeWidth": 2.3, "color": "#2a2a2a", "clip": true},
          "encoding": {
            "strokeDash": {"field": "s", "type": "nominal", "scale": {"domain": ["Measurement", "Calculation"], "range": [[1, 0], [7, 4]]},
              "legend": {"orient": "none", "legendX": -31, "legendY": -36, "title": null, "direction": "horizontal", "symbolType": "stroke", "symbolSize": 1936, "symbolStrokeWidth": 2, "symbolStrokeColor": "#222", "columnPadding": 4, "labelOffset": 3}}
          }
        }
      ]
    },
    {
      "width": 281, "height": 179,
      "title": {"text": "c)", "orient": "bottom", "anchor": "start", "frame": "group", "dx": -62, "offset": -22, "font": "Liberation Serif", "fontSize": 19, "fontWeight": "bold", "color": "#222"},
      "encoding": {
        "x": {"field": "t", "type": "quantitative", "scale": {"domain": [-0.027, 0.5], "nice": false, "zero": false},
          "axis": {"title": "Time (s)", "values": [0,0.05,0.1,0.15,0.2,0.25,0.3,0.35,0.4,0.45,0.5], "labelExpr": "abs(datum.value*10 - round(datum.value*10)) < 0.001 ? format(datum.value, '.1f') : ''", "labelFontSize": {"condition": {"test": "abs(datum.value*10 - round(datum.value*10)) < 0.001", "value": 21}, "value": 1}, "tickSize": {"condition": {"test": "abs(datum.value*10 - round(datum.value*10)) < 0.001", "value": 6}, "value": 3}, "labelPadding": 2, "titlePadding": 10, "labelFlush": false, "labelOverlap": false}},
        "y": {"field": "h", "type": "quantitative", "scale": {"domain": [-10, 110], "nice": false, "zero": false},
          "axis": {"title": "H₁/₃ (m)", "values": [0,10,20,30,40,50,60,70,80,90,100], "labelExpr": "datum.value % 20 == 0 ? format(datum.value, '.1f') : ''", "labelFontSize": {"condition": {"test": "datum.value % 20 == 0", "value": 21}, "value": 1}, "tickSize": {"condition": {"test": "datum.value % 20 == 0", "value": 6}, "value": 3}, "labelPadding": 2, "titlePadding": 22, "labelOverlap": false}}
      },
      "layer": [
        {
          "data": {"name": "curves"},
          "transform": [{"filter": "datum.p == 'c'"}],
          "mark": {"type": "line", "strokeWidth": 2.3, "color": "#2a2a2a", "clip": true},
          "encoding": {
            "strokeDash": {"field": "s", "type": "nominal", "scale": {"domain": ["Measurement", "Calculation"], "range": [[1, 0], [7, 4]]}, "legend": null}
          }
        }
      ]
    },
    {
      "width": 281, "height": 179,
      "title": {"text": "d)", "orient": "bottom", "anchor": "start", "frame": "group", "dx": -62, "offset": -22, "font": "Liberation Serif", "fontSize": 19, "fontWeight": "bold", "color": "#222"},
      "encoding": {
        "x": {"field": "t", "type": "quantitative", "scale": {"domain": [-0.027, 0.5], "nice": false, "zero": false},
          "axis": {"title": "Time (s)", "values": [0,0.05,0.1,0.15,0.2,0.25,0.3,0.35,0.4,0.45,0.5], "labelExpr": "abs(datum.value*10 - round(datum.value*10)) < 0.001 ? format(datum.value, '.1f') : ''", "labelFontSize": {"condition": {"test": "abs(datum.value*10 - round(datum.value*10)) < 0.001", "value": 21}, "value": 1}, "tickSize": {"condition": {"test": "abs(datum.value*10 - round(datum.value*10)) < 0.001", "value": 6}, "value": 3}, "labelPadding": 2, "titlePadding": 10, "labelFlush": false, "labelOverlap": false}},
        "y": {"field": "h", "type": "quantitative", "scale": {"domain": [-10, 110], "nice": false, "zero": false},
          "axis": {"title": "H₀/₃ (m)", "values": [0,10,20,30,40,50,60,70,80,90,100], "labelExpr": "datum.value % 20 == 0 ? format(datum.value, '.1f') : ''", "labelFontSize": {"condition": {"test": "datum.value % 20 == 0", "value": 21}, "value": 1}, "tickSize": {"condition": {"test": "datum.value % 20 == 0", "value": 6}, "value": 3}, "labelPadding": 2, "titlePadding": 22, "labelOverlap": false}}
      },
      "layer": [
        {
          "data": {"name": "curves"},
          "transform": [{"filter": "datum.p == 'd'"}],
          "mark": {"type": "line", "strokeWidth": 2.3, "color": "#2a2a2a", "clip": true},
          "encoding": {
            "strokeDash": {"field": "s", "type": "nominal", "scale": {"domain": ["Measurement", "Calculation"], "range": [[1, 0], [7, 4]]}, "legend": null}
          }
        },
        {
          "data": {"name": "notes"},
          "transform": [{"filter": "datum.p == 'd' && datum.k == 'vline'"}],
          "mark": {"type": "rule", "color": "#222", "strokeWidth": 1.3},
          "encoding": {"y2": {"field": "h2"}}
        },
        {
          "data": {"name": "notes"},
          "transform": [{"filter": "datum.p == 'd' && datum.k == 'arrow'"}],
          "mark": {"type": "rule", "color": "#333", "strokeWidth": 1.5},
          "encoding": {"x2": {"field": "t2"}}
        },
        {
          "data": {"name": "notes"},
          "transform": [{"filter": "datum.p == 'd' && datum.k == 'arrow'"}],
          "mark": {"type": "point", "shape": "M-1,0L1,-0.6L1,0.6Z", "size": 100, "filled": true, "color": "#333", "opacity": 1},
          "encoding": {}
        },
        {
          "data": {"name": "notes"},
          "transform": [{"filter": "datum.p == 'd' && datum.k == 'label'"}],
          "mark": {"type": "text", "align": "left", "baseline": "middle", "font": "Liberation Serif", "fontSize": 18, "fontWeight": "bold", "color": "#222"},
          "encoding": {"text": {"field": "label"}}
        }
      ]
    }
  ]
}
